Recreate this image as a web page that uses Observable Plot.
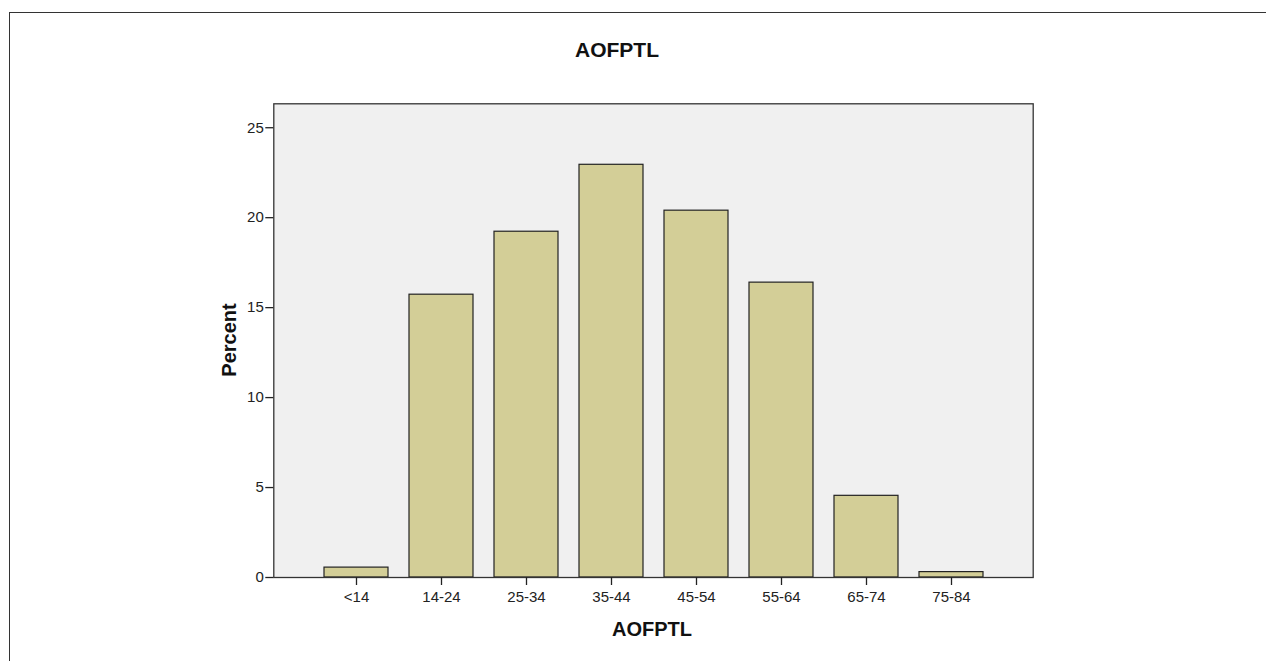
<!DOCTYPE html>
<html><head><meta charset="utf-8">
<script src="https://cdn.jsdelivr.net/npm/d3@7"></script>
<script src="https://cdn.jsdelivr.net/npm/@observablehq/plot@0.6"></script>
<style>
body{margin:0;background:#fff;}
#wrap{position:relative;width:1266px;height:661px;overflow:hidden;font-family:"Liberation Sans",Arial,sans-serif;}
#chart{position:absolute;left:0;top:0;}
#frame{position:absolute;left:9px;top:12px;width:1300px;height:700px;border-left:1.3px solid #333;border-top:1.3px solid #333;pointer-events:none;}
.lbl{position:absolute;font-weight:bold;color:#111;white-space:nowrap;}
#title{left:617px;top:38.9px;font-size:21px;line-height:21px;transform:translateX(-50%);}
#xlabel{left:652px;top:619px;font-size:20px;line-height:20px;transform:translateX(-50%);}
#ylabel{left:228.7px;top:340px;font-size:20px;line-height:20px;transform:translate(-50%,-50%) rotate(-90deg);}
</style></head><body>
<div id="wrap"><div id="chart"></div><div id="frame"></div>
<div class="lbl" id="title">AOFPTL</div>
<div class="lbl" id="xlabel">AOFPTL</div>
<div class="lbl" id="ylabel">Percent</div>
</div>
<script>
const categories = ["<14","14-24","25-34","35-44","45-54","55-64","65-74","75-84"];
const percents = [0.55, 15.72, 19.22, 22.94, 20.39, 16.39, 4.54, 0.3];
const yTicks = [0,5,10,15,20,25];
const data = categories.map((c,i)=>({cat:c, pct:percents[i]}));
const chart = Plot.plot({
  width:1266, height:661,
  marginLeft:273.3, marginRight:233.3, marginTop:103.3, marginBottom:84,
  style:{fontFamily:"Liberation Sans, Arial, sans-serif", fontSize:"15px", color:"#222", background:"transparent"},
  x:{type:"band", domain:categories, paddingInner:0.25, paddingOuter:0.57, label:null},
  y:{domain:[0,26.33], label:null},
  marks:[
    Plot.frame({fill:"#f0f0f0"}),
    Plot.barY(data,{x:"cat", y:"pct", fill:"#d3ce97", stroke:"#222", strokeWidth:1.2}),
    Plot.frame({stroke:"#333", strokeWidth:1.3}),
    Plot.axisX({tickSize:8, tickPadding:6, label:null, fontSize:15, strokeWidth:1.3}),
    Plot.axisY({ticks:yTicks, tickSize:8, tickPadding:2, label:null, fontSize:15, strokeWidth:1.3})
  ]
});
document.getElementById("chart").appendChild(chart);
</script>
</body></html>
